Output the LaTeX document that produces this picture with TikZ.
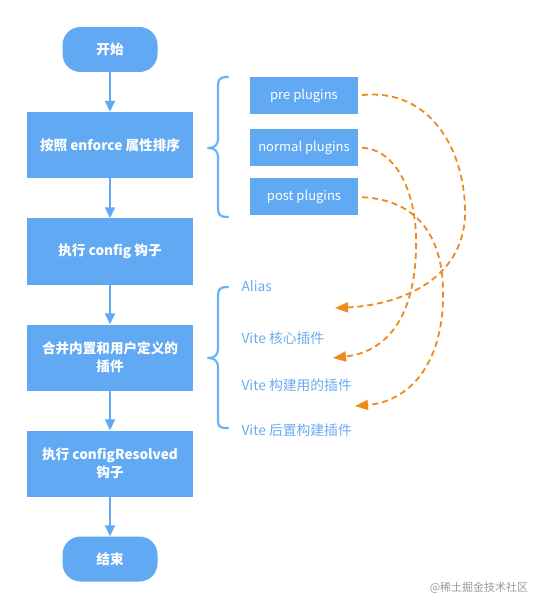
\documentclass[tikz,border=0pt]{standalone}
\usepackage{fontspec}
\setmainfont{Noto Sans CJK SC}
\usetikzlibrary{arrows.meta}
\definecolor{boxblue}{HTML}{62A9F4}
\definecolor{braceblue}{HTML}{6BB2F2}
\definecolor{labelblue}{HTML}{6AAAF0}
\definecolor{dashorange}{HTML}{F0891C}
\begin{document}
\begin{tikzpicture}[x=1pt,y=-1pt,
    stepbox/.style={fill=boxblue,text=white,minimum width=166pt,minimum height=66pt,align=center,font=\fontsize{13.6}{18}\selectfont\bfseries},
    termbox/.style={stepbox,minimum width=95pt,minimum height=45pt,rounded corners=18pt},
    plugbox/.style={fill=boxblue,text=white,minimum width=108pt,minimum height=37pt,font=\fontsize{13}{15}\selectfont},
    vitelabel/.style={anchor=west,text=labelblue,font=\fontsize{13.8}{16}\selectfont},
    flow/.style={draw=boxblue,line width=1.6pt,-{Triangle[width=10pt,length=11pt]}},
    curly/.style={draw=braceblue,line width=2.2pt,line cap=round,line join=round},
    hook/.style={draw=dashorange,line width=1.8pt,dash pattern=on 6pt off 4pt,-{Triangle[width=10pt,length=13pt]},shorten <=4pt}]
  \useasboundingbox (0,0) rectangle (547,609);
  \node[termbox] (a) at (110,49.5) {开始};
  \node[stepbox] (b) at (110,145) {按照 enforce 属性排序};
  \node[stepbox] (c) at (110,251.5) {执行 config 钩子};
  \node[stepbox] (d) at (110,357.5) {合并内置和用户定义的\\插件};
  \node[stepbox] (e) at (110,463.5) {执行 configResolved\\钩子};
  \node[termbox] (f) at (110,559) {结束};
  \draw[flow] (a) -- (b); \draw[flow] (b) -- (c); \draw[flow] (c) -- (d);
  \draw[flow] (d) -- (e); \draw[flow] (e) -- (f);
  % plugin order
  \node[plugbox] (pre) at (304,95.5) {pre plugins};
  \node[plugbox] (norm) at (304,147.5) {normal plugins};
  \node[plugbox] (post) at (304,197) {post plugins};
  \draw[curly] (228,77) .. controls (218,77) and (218,80) .. (218,90) -- (218,138)
    .. controls (218,146) and (214,148) .. (208,148)
    .. controls (214,148) and (218,150) .. (218,158) -- (218,204)
    .. controls (218,214) and (218,217) .. (228,217);
  % vite plugins
  \node[vitelabel] (alias) at (238,286) {Alias};
  \node[vitelabel] (core) at (238,338) {Vite 核心插件};
  \node[vitelabel] (build) at (238,385) {Vite 构建用的插件};
  \node[vitelabel] (postb) at (238,430) {Vite 后置构建插件};
  \draw[curly] (228,287) .. controls (218,287) and (218,290) .. (218,300) -- (218,348)
    .. controls (218,356) and (214,358) .. (208,358)
    .. controls (214,358) and (218,360) .. (218,368) -- (218,418)
    .. controls (218,426) and (218,428) .. (228,428);
  \coordinate (t1) at (335,308); \coordinate (t2) at (333,358); \coordinate (t3) at (355,406);
  \draw[hook] (pre.east) .. controls (430,88) and (466,150) .. (465,215)
    .. controls (463,280) and (400,305) .. (t1);
  \draw[hook] (norm.east) .. controls (400,150) and (418,200) .. (416,250)
    .. controls (414,320) and (385,352) .. (t2);
  \draw[hook] (post.east) .. controls (420,200) and (445,240) .. (443,300)
    .. controls (441,370) and (405,402) .. (t3);
  \node[text=black!40,font=\fontsize{11}{13}\selectfont] (mark) at (479,588) {@稀土掘金技术社区};
\end{tikzpicture}
\end{document}
